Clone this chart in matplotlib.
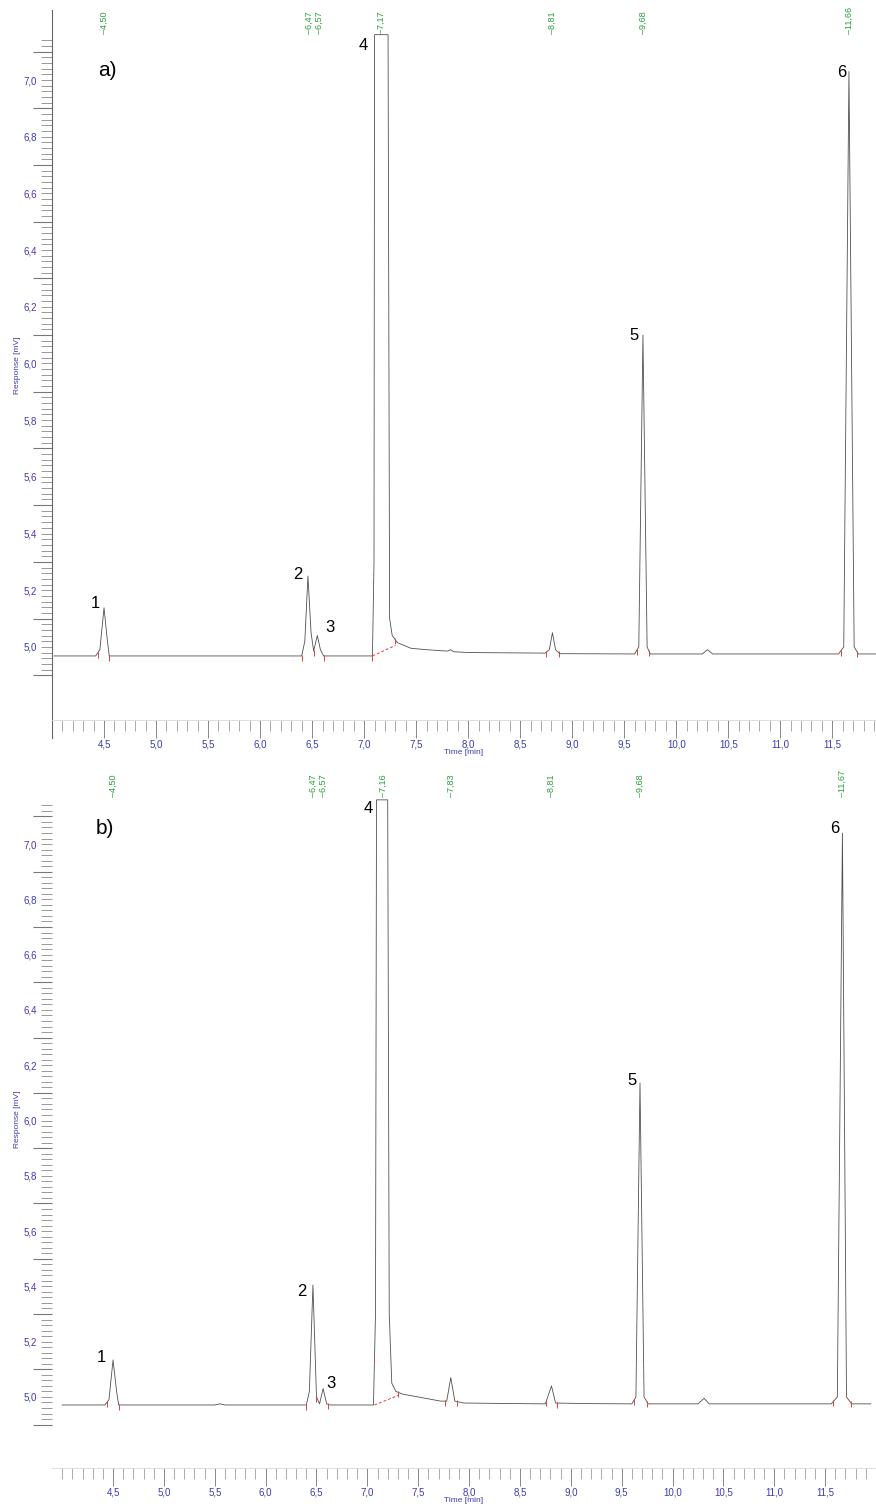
import matplotlib
matplotlib.use("Agg")
import matplotlib.pyplot as plt
import numpy as np

plt.rcParams['font.family'] = ['Liberation Sans', 'DejaVu Sans']

# trace a) : time [min], response [mV]
t_a = [4.02, 4.42, 4.46, 4.50, 4.53, 4.55, 5.70, 6.40, 6.43, 6.46, 6.49, 6.515, 6.55, 6.58, 6.61,
       7.08, 7.095, 7.10, 7.23, 7.245, 7.27, 7.32, 7.45, 7.60, 7.80, 7.83, 7.86, 8.00, 8.74, 8.78,
       8.81, 8.84, 8.88, 9.60, 9.64, 9.68, 9.72, 9.75, 10.25, 10.30, 10.35, 11.56, 11.61, 11.66,
       11.71, 11.75, 11.92]
r_a = [4.968, 4.968, 4.99, 5.138, 5.03, 4.968, 4.968, 4.968, 5.02, 5.25, 5.05, 4.985, 5.04, 4.99, 4.968,
       4.968, 5.3, 7.16, 7.16, 5.1, 5.04, 5.015, 4.995, 4.99, 4.985, 4.99, 4.983, 4.98, 4.978, 4.99,
       5.05, 4.99, 4.976, 4.975, 5.0, 6.10, 5.0, 4.975, 4.975, 4.99, 4.975, 4.975, 5.0, 7.03,
       5.0, 4.975, 4.975]

# trace b)
t_b = [4.00, 4.42, 4.46, 4.50, 4.535, 4.555, 5.50, 5.55, 5.60, 6.40, 6.43, 6.465, 6.50, 6.53, 6.565,
       6.60, 6.63, 7.06, 7.08, 7.09, 7.20, 7.215, 7.24, 7.28, 7.35, 7.50, 7.72, 7.78, 7.82, 7.86,
       7.95, 8.75, 8.81, 8.85, 9.15, 9.60, 9.64, 9.68, 9.72, 9.76, 10.25, 10.31, 10.36, 11.56,
       11.62, 11.67, 11.71, 11.76, 11.95]
r_b = [4.971, 4.971, 4.99, 5.134, 5.02, 4.971, 4.971, 4.975, 4.971, 4.971, 5.02, 5.405, 5.0, 4.975, 5.03,
       4.975, 4.971, 4.971, 5.3, 7.16, 7.16, 5.3, 5.05, 5.02, 5.01, 5.0, 4.985, 4.985, 5.07, 4.985,
       4.978, 4.975, 5.04, 4.978, 4.976, 4.975, 5.0, 6.136, 5.0, 4.975, 4.975, 4.995, 4.975, 4.975,
       5.0, 7.04, 5.0, 4.975, 4.975]

# integration marks (red)
marks_a = [4.44, 4.55, 6.40, 6.515, 6.61, 7.08, 7.30, 8.75, 8.87, 9.62, 9.74, 11.58, 11.74]
marks_b = [4.44, 4.555, 6.40, 6.50, 6.61, 7.07, 7.30, 7.76, 7.88, 8.76, 8.86, 9.62, 9.75, 11.58, 11.75]
base4_a = ([7.08, 7.30], [4.968, 5.005])
base4_b = ([7.07, 7.30], [4.971, 5.005])

# retention time labels (green)
rt_a = [4.50, 6.47, 6.57, 7.17, 8.81, 9.68, 11.66]
rt_b = [4.50, 6.47, 6.57, 7.16, 7.83, 8.81, 9.68, 11.67]

# peak numbers: (label, time, response)
nums_a = [("1", 4.42, 5.152), ("2", 6.365, 5.254), ("3", 6.672, 5.067), ("4", 6.99, 7.12),
          ("5", 9.594, 6.10), ("6", 11.59, 7.028)]
nums_b = [("1", 4.39, 5.141), ("2", 6.358, 5.38), ("3", 6.644, 5.047), ("4", 7.007, 7.13),
          ("5", 9.603, 6.146), ("6", 11.59, 7.058)]

blue = '#3c3cb0'
green = '#2a9e3a'

fig = plt.figure(figsize=(8.76, 15.09), dpi=100)
ax_a = fig.add_axes([52/876, 1 - 720/1509, 824/876, 710/1509])
ax_b = fig.add_axes([52/876, 1 - 1468/1509, 824/876, 698/1509])


def setup(ax, t, r, marks, base4, rts, nums, tag, tagpos, xlim, ylim, rt_y, show_spine):
    ax.plot(t, r, color='#505050', lw=0.6)
    ax.plot(base4[0], base4[1], color='#e04040', lw=0.7, ls=(0, (3, 2)))
    ax.plot(marks, np.interp(marks, t, r) - 0.006, ls='none', marker='|', ms=4,
            color='#e04040', mew=0.7)
    ax.set_xlim(*xlim)
    ax.set_ylim(*ylim)

    for sp in ['top', 'right']:
        ax.spines[sp].set_visible(False)
    ax.spines['bottom'].set_color('#d8d8d8')
    ax.spines['bottom'].set_linewidth(0.6)
    if show_spine:
        ax.spines['left'].set_color('#666666')
        ax.spines['left'].set_linewidth(0.8)
        ax.spines['left'].set_bounds(ylim[0] - 0.065, ylim[1])
    else:
        ax.spines['left'].set_visible(False)

    # y ticks: long at odd tenths, short every 0.02, labels at even tenths
    odd = np.round(np.arange(4.9, 7.15, 0.2), 2)
    fine = np.round(np.arange(4.92, 7.15, 0.02), 2)
    fine = [v for v in fine if not np.any(np.isclose(v, odd))]
    flabels = []
    for v in fine:
        if abs(v * 5 - round(v * 5)) < 1e-6 and 5.0 <= v <= 7.0:
            flabels.append(f"{v:.1f}".replace('.', ','))
        else:
            flabels.append('')
    ax.set_yticks(odd, [''] * len(odd))
    ax.set_yticks(fine, flabels, minor=True)
    ax.tick_params(axis='y', which='major', length=14, width=0.8, color='#777777')
    ax.tick_params(axis='y', which='minor', length=8, width=0.7, color='#999999',
                   labelsize=7, labelcolor=blue, pad=3)

    # x ticks
    xmaj = np.arange(4.5, 12.0, 0.5)
    xmin = np.round(np.arange(4.0, 11.95, 0.1), 2)
    ax.set_xticks(xmaj, [f"{v:.1f}".replace('.', ',') for v in xmaj])
    ax.set_xticks(xmin, minor=True)
    ax.tick_params(axis='x', which='major', length=13, width=0.7, color='#888888',
                   labelsize=7, labelcolor=blue, pad=1)
    ax.tick_params(axis='x', which='minor', length=8, width=0.7, color='#aaaaaa')
    ax.set_xlabel('Time [min]', fontsize=6, color=blue, labelpad=0)
    ax.set_ylabel('Response [mV]', fontsize=6, color=blue, labelpad=2)

    for v in rts:
        ax.text(v, rt_y, "\u2013" + f"{v:.2f}".replace('.', ','), rotation=90, fontsize=6.5,
                color=green, ha='center', va='bottom',
                transform=ax.get_xaxis_transform())
    for lab, x, y in nums:
        ax.text(x, y, lab, fontsize=12, ha='center', va='center', color='black')
    ax.text(tagpos[0], tagpos[1], tag, fontsize=15, ha='center', va='center', color='black')


setup(ax_a, t_a, r_a, marks_a, base4_a, rt_a, nums_a, 'a)', (4.53, 7.035),
      (4.0, 11.92), (4.742, 7.247), 0.966, True)
setup(ax_b, t_b, r_b, marks_b, base4_b, rt_b, nums_b, 'b)', (4.42, 7.058),
      (3.90, 12.0), (4.743, 7.268), 0.961, False)

ax_a.yaxis.set_label_coords(-0.038, 0.5)
ax_b.yaxis.set_label_coords(-0.038, 0.5)

fig.savefig('out.png', dpi=100)
